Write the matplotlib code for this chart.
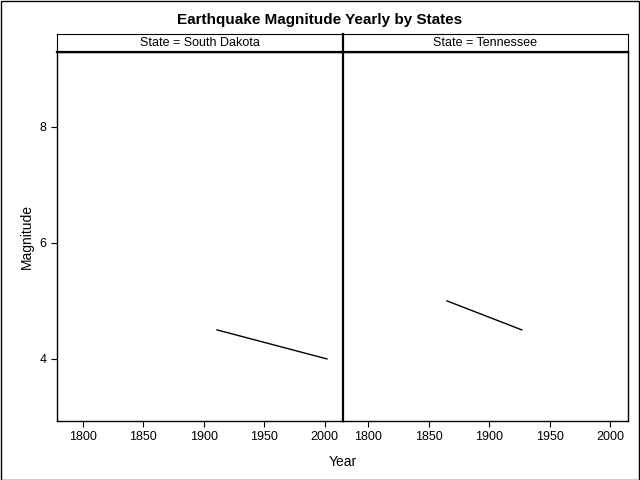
import matplotlib.pyplot as plt
import matplotlib.patches as patches

plt.rcParams['font.family'] = ['Liberation Sans', 'DejaVu Sans']

states = ['South Dakota', 'Tennessee']
years = {'South Dakota': [1911, 2002], 'Tennessee': [1865, 1927]}
mags = {'South Dakota': [4.5, 4.0], 'Tennessee': [5.0, 4.5]}
xticks = [1800, 1850, 1900, 1950, 2000]
yticks = [4, 6, 8]

fig = plt.figure(figsize=(6.4, 4.8), dpi=100)
fig.patches.append(patches.Rectangle((0.001, 0.001), 0.998, 0.997, transform=fig.transFigure,
                                     fill=False, edgecolor='black', linewidth=1))
W, H = 640, 480
left, right, top, bottom, strip = 57, 628, 34, 421, 18
pw = (right - left) / 2

for i, st in enumerate(states):
    x0 = left + i * pw
    ax = fig.add_axes([x0 / W, 1 - bottom / H, pw / W, (bottom - top - strip) / H])
    ax.plot(years[st], mags[st], color='black', linewidth=1)
    ax.set_xlim(1778.5, 2014.9)
    ax.set_ylim(2.93, 9.29)
    ax.set_xticks(xticks)
    ax.set_yticks(yticks if i == 0 else [])
    ax.tick_params(labelsize=9, length=4)
    for s in ax.spines.values():
        s.set_linewidth(1)
    if i == 0:
        ax.set_ylabel('Magnitude', fontsize=10)
    else:
        ax.spines['left'].set_linewidth(1.6)
    sax = fig.add_axes([x0 / W, 1 - (top + strip) / H, pw / W, strip / H])
    sax.set_xticks([])
    sax.set_yticks([])
    sax.text(0.5, 0.5, 'State = ' + st, ha='center', va='center', fontsize=9,
             transform=sax.transAxes)
    sax.spines['bottom'].set_linewidth(1.6)
    if i == 1:
        sax.spines['left'].set_linewidth(1.6)

fig.text((left + right) / 2 / W, 1 - 462 / H, 'Year', ha='center', va='center', fontsize=10)
fig.text(0.5, 1 - 20 / H, 'Earthquake Magnitude Yearly by States', ha='center', va='center',
         fontsize=11, fontweight='bold')

fig.savefig('out.png', dpi=100)
